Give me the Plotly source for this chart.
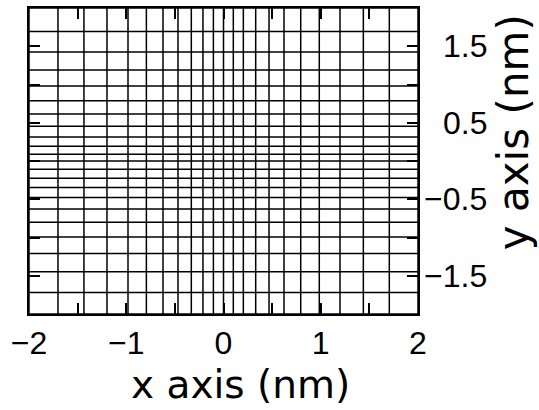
import plotly.graph_objects as go

# Mesh line positions (nm)
x_mesh = [-2.0, -1.702, -1.435, -1.198, -0.982, -0.793, -0.622, -0.468, -0.331, -0.211, -0.104,
          0.0, 0.101, 0.204, 0.331, 0.468, 0.622, 0.794, 0.985, 1.198, 1.438, 1.705, 2.0]
y_mesh = [2.0, 1.694, 1.426, 1.189, 0.981, 0.787, 0.613, 0.454, 0.315, 0.194, 0.087,
          0.0, -0.108, -0.224, -0.346, -0.476, -0.626, -0.80, -0.994, -1.21, -1.448, -1.72, -2.0]

x_tick_vals = [-2, -1.5, -1, -0.5, 0, 0.5, 1, 1.5, 2]
x_tick_text = ["\u22122", "", "\u22121", "", "0", "", "1", "", "2"]
y_tick_vals = [-2, -1.5, -1, -0.5, 0, 0.5, 1, 1.5, 2]
y_label_vals = [1.5, 0.5, -0.5, -1.5]
y_label_text = ["1.5", "0.5", "\u22120.5", "\u22121.5"]

x_range = [-2, 2]
y_range = [-2, 2]

TICK_FONT = "Liberation Sans"
TITLE_FONT = "DejaVu Sans"

xs, ys = [], []
for xv in x_mesh:
    xs += [xv, xv, None]
    ys += [y_range[0], y_range[1], None]
for yv in y_mesh:
    xs += [x_range[0], x_range[1], None]
    ys += [yv, yv, None]

fig = go.Figure()
fig.add_trace(go.Scatter(x=xs, y=ys, mode="lines",
                         line=dict(color="black", width=1.5),
                         hoverinfo="skip", showlegend=False))

axis_common = dict(showgrid=False, zeroline=False, showline=True, linecolor="black",
                   linewidth=2, mirror="allticks", ticks="inside", ticklen=11,
                   tickwidth=2, tickcolor="black")

fig.update_xaxes(range=x_range, tickmode="array", tickvals=x_tick_vals,
                 ticktext=x_tick_text, tickfont=dict(family=TICK_FONT, size=32, color="black"),
                 **axis_common)
fig.update_yaxes(range=y_range, tickmode="array", tickvals=y_tick_vals,
                 showticklabels=False, side="right", **axis_common)

annotations = []
for v, t in zip(y_label_vals, y_label_text):
    annotations.append(dict(x=(489 - 29) / 389, xref="paper", y=v, yref="y",
                            text=t, showarrow=False, xanchor="right", yanchor="middle",
                            font=dict(family=TICK_FONT, size=32, color="black")))
annotations.append(dict(x=(240 - 29) / 389, xref="paper", y=(314 - 385) / 308, yref="paper",
                        text="x axis (nm)", showarrow=False, xanchor="center",
                        yanchor="middle", font=dict(family=TITLE_FONT, size=39, color="black")))
annotations.append(dict(x=(513 - 29) / 389, xref="paper", y=(314 - 131) / 308, yref="paper",
                        text="y axis (nm)", showarrow=False, xanchor="center",
                        yanchor="middle", textangle=-90,
                        font=dict(family=TITLE_FONT, size=42, color="black")))

fig.update_layout(width=539, height=410, margin=dict(l=29, r=121, t=6, b=96),
                  paper_bgcolor="white", plot_bgcolor="white",
                  annotations=annotations)

fig.write_html("out.html", config={"displayModeBar": False},
               post_script="document.body.style.margin='0';document.body.style.padding='0';")
